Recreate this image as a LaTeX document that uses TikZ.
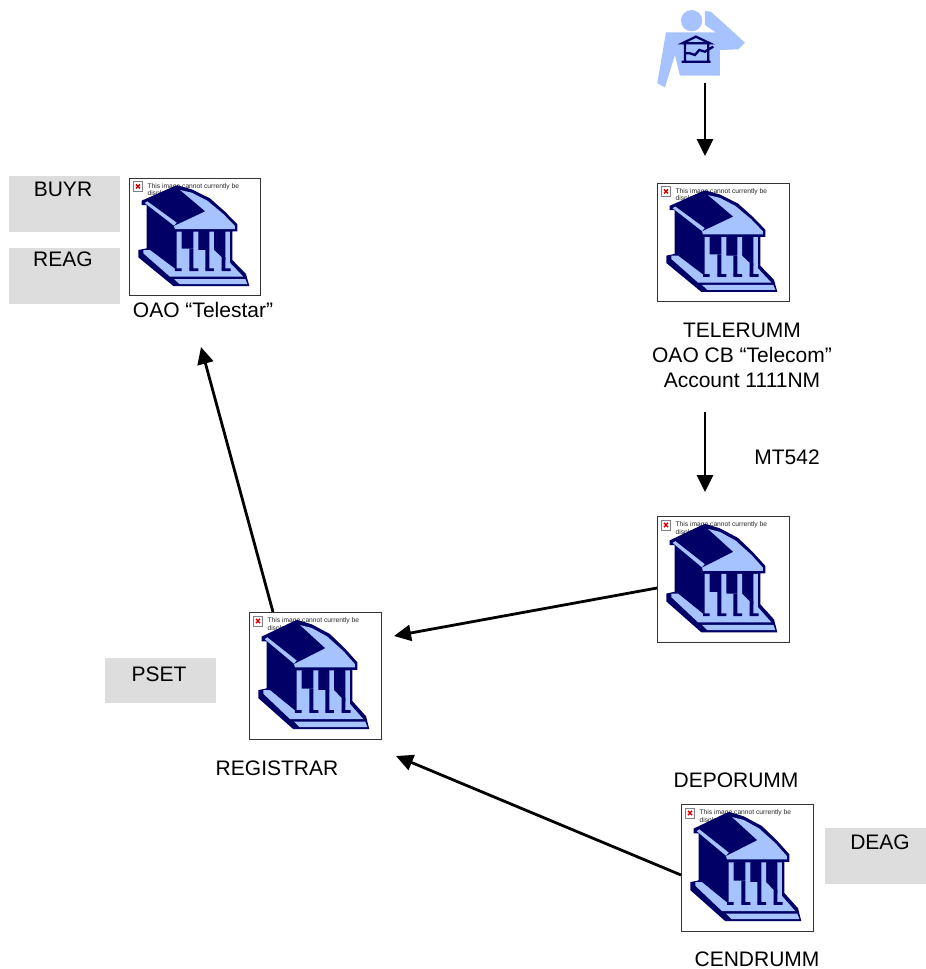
\documentclass[tikz,border=0pt]{standalone}
\usepackage{fontspec}
\setmainfont{Liberation Sans}
\usetikzlibrary{arrows.meta}
\definecolor{navy}{HTML}{000066}
\definecolor{sky}{HTML}{A6C2FF}
\definecolor{tag}{HTML}{DDDDDD}
\tikzset{
  lbl/.style={font=\fontsize{21}{25}\selectfont,align=center,inner sep=0pt,text=black},
  tagbox/.style={fill=tag,draw=none,anchor=north west,inner sep=0pt},
  imgbox/.style={draw=black!80,line width=1pt,fill=white,anchor=north west,inner sep=0pt},
  flow/.style={draw=black,line width=2.8pt,-{Triangle[length=17pt,width=16pt]}},
  dark/.style={fill=navy,draw=none},
  light/.style={fill=sky,draw=none},
  msg/.style={font=\fontsize{6.7}{7.8}\selectfont,align=left,anchor=north west,inner sep=0pt,text=black!85}
}
\newcommand{\bankbox}[5]{%
  \node[imgbox,minimum width=#4pt,minimum height=#5pt] (#1) at (#2,#3) {};
  \begin{scope}[shift={(#2,#3)}]
    \pgfmathsetmacro{\ys}{#5/117/3}
    \begin{scope}[x=0.3333pt,y=-\ys pt,shift={(-27,-24)}]
      \fill[white,draw=black!50,line width=0.6pt] (41,35) rectangle (67,63);
      \draw[red!85!black,line width=1.4pt] (48,43) -- (60,55) (60,43) -- (48,55);
      \node[msg] (#1msg) at (82,39) {This image cannot currently be\\displayed.};
      \fill[dark] (65,92) -- (160,50) -- (172,46) -- (215,58) -- (270,85) -- (315,125) -- (352,163) -- (352,184) -- (337,184) -- (337,270) -- (378,312) -- (388,348) -- (160,348) -- (55,262) -- (55,240) -- (80,235) -- (80,105) -- (65,105) -- cycle;
      \fill[light] (74,99) -- (82,94) -- (170,158) -- (162,167) -- cycle;
      \fill[light] (162,168) -- (256,124) -- (180,60) -- (215,68) -- (262,92) -- (310,132) -- (345,168) -- (345,177) -- (165,177) -- cycle;
      \fill[light] (170,185) -- (185,185) -- (185,236) -- (220,236) -- (220,185) -- (235,185) -- (235,240) -- (268,240) -- (268,185) -- (282,185) -- (282,240) -- (316,272) -- (316,185) -- (330,185) -- (330,278) -- (370,320) -- (150,320) -- (70,250) -- (70,240) -- (90,240) -- (170,300) -- cycle;
      \fill[dark] (208,236) rectangle (220,298) (256,240) rectangle (268,298) (305,262) rectangle (316,298);
      \fill[dark] (165,295) rectangle (185,303) (208,295) rectangle (235,303) (256,295) rectangle (282,303) (305,295) rectangle (332,303);
      \fill[light] (162,327) -- (376,327) -- (382,342) -- (178,342) -- cycle;
    \end{scope}
  \end{scope}
}
\begin{document}
\begin{tikzpicture}[x=1pt,y=-1pt]
\useasboundingbox (0,0) rectangle (926,969);
\fill[white] (0,0) rectangle (926,969);
% tag boxes
\node[tagbox,minimum width=111pt,minimum height=56pt] (buyrbg) at (9,176) {};
\node[tagbox,minimum width=111pt,minimum height=56pt] (reagbg) at (9,248) {};
\node[tagbox,minimum width=111pt,minimum height=45pt] (psetbg) at (105,658) {};
\node[tagbox,minimum width=101pt,minimum height=56pt] (deagbg) at (825,828) {};
\node[lbl] (buyr) at (63,189) {BUYR};
\node[lbl] (reag) at (63,259.5) {REAG};
\node[lbl] (pset) at (159,674) {PSET};
\node[lbl] (deag) at (880,842) {DEAG};
% banks
\bankbox{telestar}{129}{178}{131}{117}
\bankbox{telecom}{657}{183}{132}{118}
\bankbox{depo}{657}{516}{132}{126}
\bankbox{registrar}{249}{612}{132}{127}
\bankbox{cend}{681}{804}{132}{127}
% person
\begin{scope}[x=0.3333pt,y=-0.3333pt,shift={(1920,0)}]
  \fill[light] (155,62) circle [radius=32];
  \fill[light] (195,33) -- (212,35) -- (235,55) -- (315,128) -- (295,148) -- (240,150) -- (240,227) -- (120,227) -- (105,165) -- (75,262) -- (52,250) -- (78,97) -- (228,97) -- (195,75) -- cycle;
  \draw[navy,line width=2.3pt,line join=miter]
    (127,130) -- (168,110) -- (210,130) -- cycle
    (135,132) -- (135,185) (205,132) -- (205,185)
    (125,185) -- (212,185)
    (135,160) -- (150,160) -- (165,165) -- (178,150) -- (195,155) -- (220,140);
\end{scope}
% labels
\node[lbl] (telestarl) at (203,310) {OAO “Telestar”};
\node[lbl] (telecoml) at (742,355) {TELERUMM\\OAO CB “Telecom”\\Account 1111NM};
\node[lbl] (mt) at (787,457) {MT542};
\node[lbl] (regl) at (277,768) {REGISTRAR};
\node[lbl] (depol) at (736,780) {DEPORUMM};
\node[lbl] (cendl) at (757,959) {CENDRUMM};
% connector ends
\coordinate (personfoot) at (705,83);
\coordinate (telecomin) at (705,156);
\coordinate (telecomout) at (705,412);
\coordinate (depoin) at (705,492);
\coordinate (depoout) at (657,588);
\coordinate (regina) at (394,636);
\coordinate (cendout) at (681,875);
\coordinate (reginb) at (396,756);
\coordinate (regout) at (273,612);
\coordinate (telestarin) at (201,347);
\draw[flow] (personfoot) -- (telecomin);
\draw[flow] (telecomout) -- (depoin);
\draw[flow] (depoout) -- (regina);
\draw[flow] (cendout) -- (reginb);
\draw[flow] (regout) -- (telestarin);
\end{tikzpicture}
\end{document}
